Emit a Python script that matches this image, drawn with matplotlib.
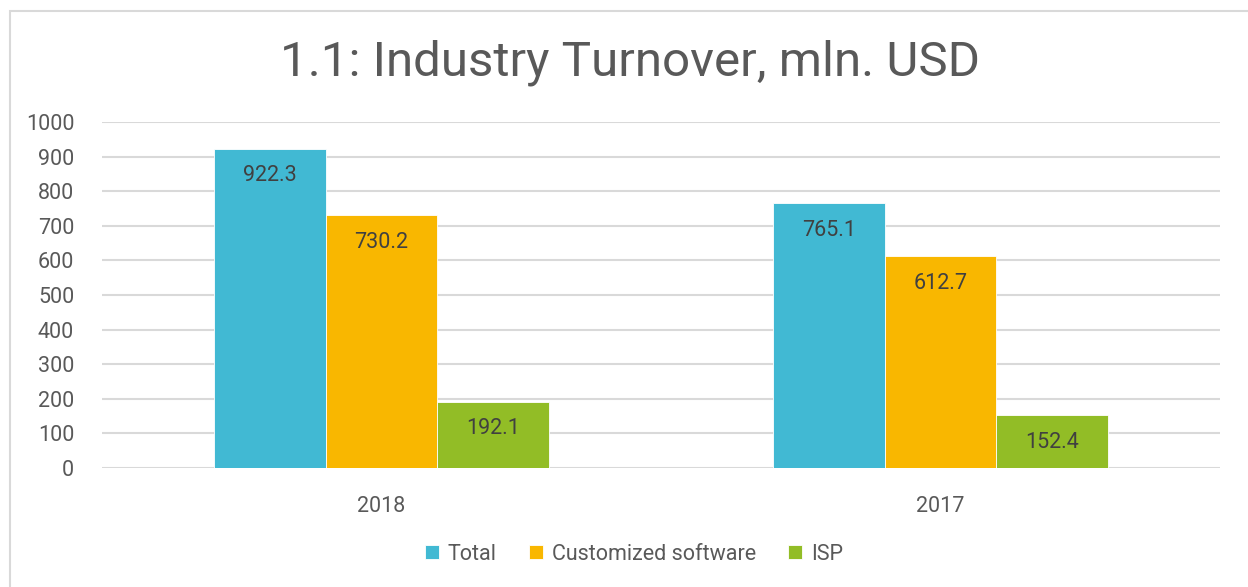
import numpy as np
import matplotlib
matplotlib.use('Agg')
import matplotlib.pyplot as plt
from matplotlib.patches import Rectangle

# data
years = ['2018', '2017']
series = ['Total', 'Customized software', 'ISP']
total = [922.3, 765.1]
custom_sw = [730.2, 612.7]
isp = [192.1, 152.4]
colors = ['#41B9D3', '#F9B700', '#92BD26']

plt.rcParams['font.family'] = ['Roboto', 'DejaVu Sans']
txt = '#595959'

W, H = 1248, 587
fig = plt.figure(figsize=(W / 100, H / 100), dpi=100)
# outer chart border
fig.patches.append(Rectangle((10 / W, -0.01), 1.1, 1 - 11 / H + 0.01, transform=fig.transFigure,
                             fill=False, edgecolor='#D9D9D9', linewidth=1.5))

ax = fig.add_axes([102 / W, 119 / H, (1220 - 102) / W, (468 - 122) / H])
x = np.arange(len(years))
bw = 0.2
for i, (vals, name) in enumerate(zip([total, custom_sw, isp], series)):
    bars = ax.bar(x + (i - 1) * bw, vals, width=bw, color=colors[i], label=name, zorder=3,
                  edgecolor='white', linewidth=0.6)
    for b, v in zip(bars, vals):
        ax.annotate('%.1f' % v, (b.get_x() + b.get_width() / 2, v), xytext=(0, -19.5),
                    textcoords='offset points', ha='center', va='center', fontsize=15.5, color='#404040',
                    zorder=4)

ax.set_xlim(-0.5, 1.5)
ax.set_ylim(0, 1000)
ax.set_yticks(np.arange(0, 1001, 100))
ax.set_xticks(x)
ax.set_xticklabels(years)
ax.grid(axis='y', color='#D9D9D9', linewidth=1.5, zorder=0)
for s in ax.spines.values():
    s.set_visible(False)
ax.tick_params(length=0, labelsize=15.5, colors=txt)
ax.tick_params(axis='x', pad=20)
ax.tick_params(axis='y', pad=20)

fig.text(630 / W, 1 - 63 / H, '1.1: Industry Turnover, mln. USD', ha='center', va='center',
         fontsize=35.5, color=txt)

leg = fig.legend(loc='center', bbox_to_anchor=(634 / W, 1 - 554 / H), ncol=3, frameon=False,
                 fontsize=15.5, handlelength=0.65, handleheight=0.65, handletextpad=0.4, columnspacing=1.5)
for t in leg.get_texts():
    t.set_color(txt)

fig.savefig('out.png', dpi=100)
